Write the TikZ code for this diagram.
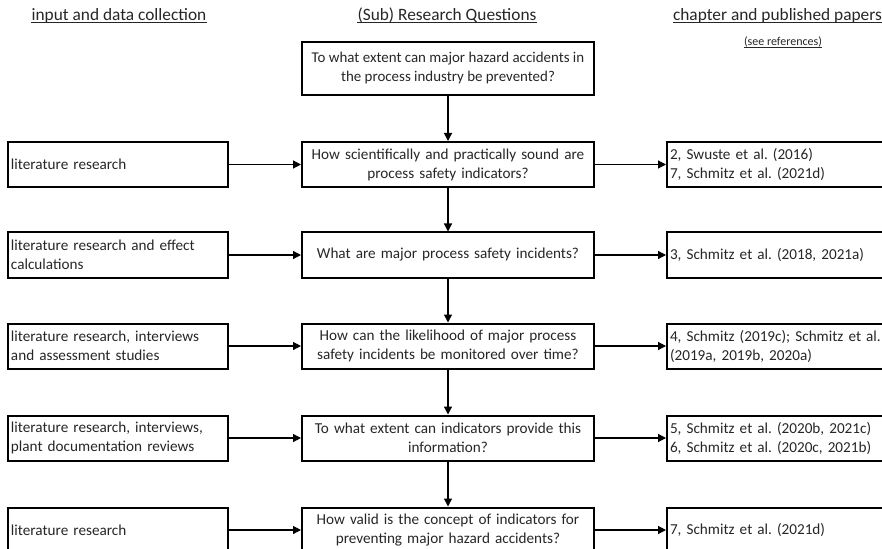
\documentclass[tikz,border=0pt]{standalone}
\usepackage{fontspec}
\setmainfont{Carlito}
\usetikzlibrary{arrows.meta}
\frenchspacing
\begin{document}
\begin{tikzpicture}[
  x=0.75pt, y=-0.75pt,
  every node/.style={text=black!85},
  box/.style={draw, rectangle, line width=1.5pt, inner xsep=2.25pt, inner ysep=0pt,
    minimum height=33.75pt, font=\fontsize{11.4}{14.25}\selectfont},
  lbox/.style={box, minimum width=165pt, text width=160.5pt, align=left},
  qbox/.style={box, minimum width=219pt, text width=214.5pt, align=center},
  topbox/.style={box, minimum width=219pt, minimum height=39.75pt, inner xsep=0pt,
    align=center, font=\fontsize{11.2}{14.25}\selectfont},
  rbox/.style={box, minimum width=172.5pt, text width=168pt, align=left},
  head/.style={inner sep=0pt, anchor=base, font=\fontsize{13}{15}\selectfont},
  subhead/.style={head, font=\fontsize{9}{11}\selectfont},
  uline/.style={line width=0.8pt, black!85},
  arr/.style={line width=0.9pt, -{Triangle[length=6pt,width=6pt]}}
]
\useasboundingbox (0,0) rectangle (882,549);

% column headings
\node[head] (h1) at (119,20.5) {input and data collection};
\node[head] (h2) at (447,20.5) {(Sub) Research Questions};
\node[head] (h3) at (777.5,20.5) {chapter and published papers};
\node[subhead] (h4) at (783,45.5) {(see references)};
\foreach \h in {h1,h2,h3} {
  \draw[uline] ([yshift=-1.7pt]\h.base west) -- ([yshift=-1.7pt]\h.base east);
}
\draw[line width=0.6pt, black!85] ([yshift=-1.3pt]h4.base west) -- ([yshift=-1.3pt]h4.base east);

% main question
\node[topbox] (q0) at (448,68.5) {To what extent can major hazard accidents in\\the process industry be prevented?};

% row 1
\node[lbox] (l1) at (118,164.5) {literature research};
\node[qbox] (q1) at (448,164.5) {How scientifically and practically sound are\\process safety indicators?};
\node[rbox] (r1) at (782,164.5) {2, Swuste et al. (2016)\\7, Schmitz et al. (2021d)};

% row 2
\node[lbox] (l2) at (118,255) {literature research and effect\\calculations};
\node[qbox] (q2) at (448,255) {What are major process safety incidents?};
\node[rbox] (r2) at (782,255) {3, Schmitz et al. (2018, 2021a)};

% row 3
\node[lbox] (l3) at (118,346) {literature research, interviews\\and assessment studies};
\node[qbox] (q3) at (448,346) {How can the likelihood of major process\\safety incidents be monitored over time?};
\node[rbox] (r3) at (782,346) {4, Schmitz (2019c); Schmitz et al.\\(2019a, 2019b, 2020a)};

% row 4
\node[lbox] (l4) at (118,438) {literature research, interviews,\\plant documentation reviews};
\node[qbox] (q4) at (448,438) {To what extent can indicators provide this\\information?};
\node[rbox] (r4) at (782,438) {5, Schmitz et al. (2020b, 2021c)\\6, Schmitz et al. (2020c, 2021b)};

% row 5
\node[lbox] (l5) at (118,530) {literature research};
\node[qbox] (q5) at (448,530) {How valid is the concept of indicators for\\preventing major hazard accidents?};
\node[rbox] (r5) at (782,530) {7, Schmitz et al. (2021d)};

% connectors
\draw[arr] (q0) -- (q1);
\foreach \i/\j in {1/2,2/3,3/4,4/5} {
  \draw[arr] (q\i) -- (q\j);
}
\foreach \i in {1,...,5} {
  \draw[arr] (l\i) -- (q\i);
  \draw[arr] (q\i) -- (r\i);
}
\end{tikzpicture}
\end{document}
